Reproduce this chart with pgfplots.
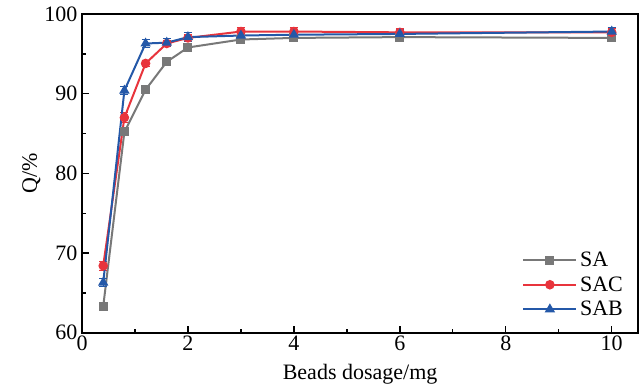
\documentclass[border=0pt]{standalone}
\usepackage{pgfplots}
\pgfplotsset{compat=1.18}
\usepackage{fontspec}
\setmainfont{Liberation Serif}
\definecolor{cSA}{RGB}{120,120,120}
\definecolor{cSAC}{RGB}{232,52,60}
\definecolor{cSAB}{RGB}{36,88,168}
\begin{document}
\begin{tikzpicture}
\begin{axis}[
  scale only axis,
  width=417pt, height=239pt,
  xmin=0, xmax=10.5, ymin=60, ymax=100,
  xtick={0,2,4,6,8,10}, minor xtick={1,3,5,7,9},
  ytick={60,70,80,90,100}, minor ytick={65,75,85,95},
  tick pos=left,
  tick align=inside,
  major tick length=5pt, minor tick length=3pt,
  tick style={black, line width=1pt},
  axis line style={line width=1.2pt},
  /pgf/number format/assume math mode=true,
  ticklabel style={font=\fontsize{16.5}{18}\selectfont},
  label style={font=\fontsize{16.5}{18}\selectfont},
  xticklabel style={yshift=1pt},
  xlabel={Beads dosage/mg},
  ylabel={Q/\%},
  xlabel style={at={(axis description cs:0.5,0)}, anchor=center, yshift=-31pt},
  ylabel style={yshift=-4pt},
  legend style={draw=none, fill=none, at={(0.985,0.03)}, anchor=south east,
    font=\fontsize{16.5}{18}\selectfont, row sep=2pt},
  legend cell align=left,
  legend image code/.code={
    \draw[mark repeat=2,mark phase=2] plot coordinates {(0cm,0cm) (0.7cm,0cm) (1.4cm,0cm)};},
  every axis plot/.append style={line width=1.5pt},
  error bars/error bar style={line width=0.8pt},
  error bars/error mark options={rotate=90, mark size=3pt, line width=0.8pt},
]
\addplot[cSA, mark=square*, mark size=2.6pt,
  error bars/.cd, y dir=both, y explicit]
  table[x=x, y=y, y error=e] {
x y e
0.4 63.3 0.5
0.8 85.2 0.4
1.2 90.5 0.3
1.6 94.0 0.4
2 95.8 0.4
3 96.8 0.5
4 97.0 0.5
6 97.1 0.4
10 97.0 0.4
};
\addlegendentry{SA}
\addplot[cSAC, mark=*, mark size=2.8pt,
  error bars/.cd, y dir=both, y explicit]
  table[x=x, y=y, y error=e] {
x y e
0.4 68.4 0.6
0.8 87.0 0.6
1.2 93.8 0.4
1.6 96.3 0.4
2 97.0 0.4
3 97.8 0.5
4 97.8 0.5
6 97.7 0.5
10 97.7 0.5
};
\addlegendentry{SAC}
\addplot[cSAB, mark=triangle*, mark size=3pt,
  error bars/.cd, y dir=both, y explicit]
  table[x=x, y=y, y error=e] {
x y e
0.4 66.3 0.5
0.8 90.4 0.5
1.2 96.3 0.5
1.6 96.4 0.5
2 97.1 0.6
3 97.3 0.5
4 97.4 0.5
6 97.5 0.5
10 97.8 0.5
};
\addlegendentry{SAB}
\end{axis}
\path (current axis.south west) ++(-61.5pt,-42pt) coordinate (bl);
\path (current axis.north east) ++(0.5pt,10.5pt) coordinate (tr);
\useasboundingbox (bl) rectangle (tr);
\end{tikzpicture}
\end{document}
